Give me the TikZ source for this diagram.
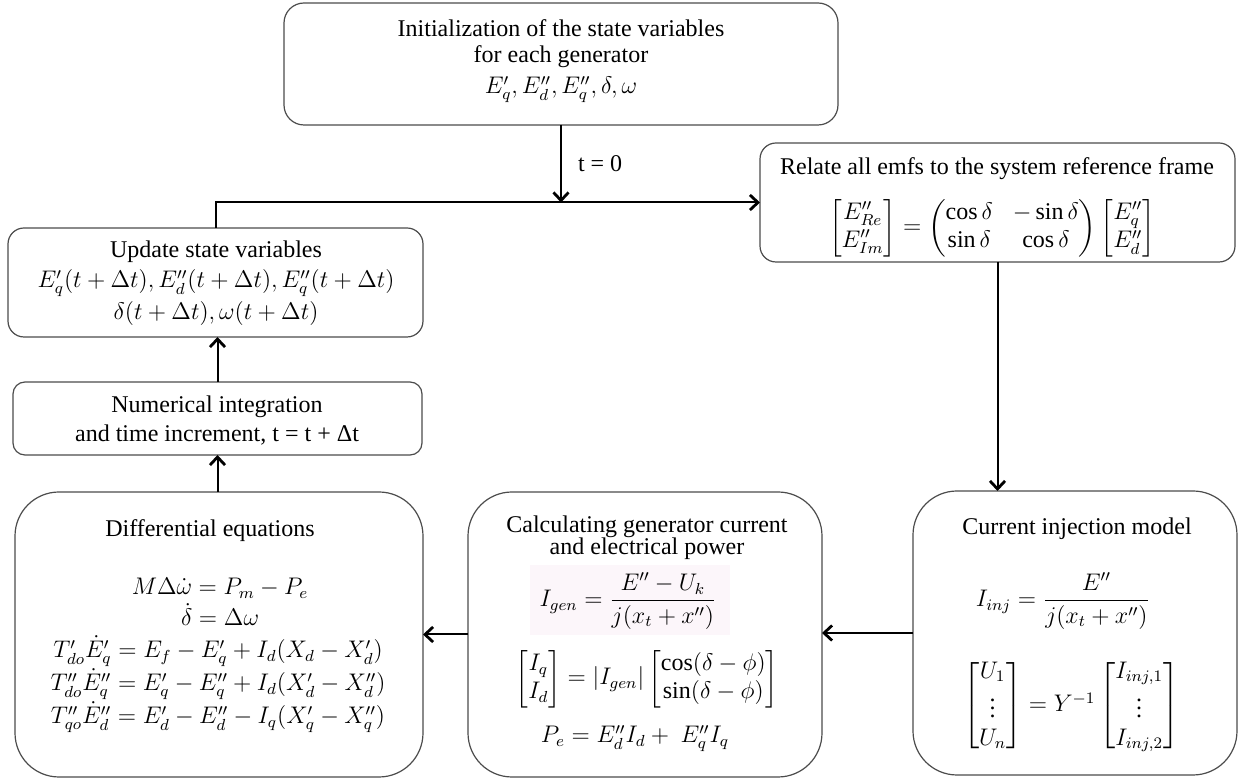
\documentclass[tikz,border=0pt]{standalone}
\usepackage{amsmath}
\usepackage{fontspec}
\setmainfont{Liberation Serif}
\usetikzlibrary{arrows.meta}
\definecolor{pinkbg}{RGB}{252,246,250}
\begin{document}
\begin{tikzpicture}[x=0.5pt,y=-0.5pt,
  box/.style={draw=black!70, line width=0.6pt, inner sep=0pt, outer sep=0pt, fill=white},
  arr/.style={line width=1pt, -{Straight Barb[length=4pt,width=7.5pt,line width=1.4pt]}},
  txt/.style={anchor=base, inner sep=0pt, font=\fontsize{12}{14}\selectfont},
  mth/.style={anchor=center, inner sep=0pt, font=\fontsize{12}{14}\selectfont}]
\useasboundingbox (0,0) rectangle (1239,780);
% boxes
\node[box, minimum width=277pt, minimum height=61pt, rounded corners=10pt] (init) at (561,64) {};
\node[box, minimum width=237.5pt, minimum height=59.5pt, rounded corners=8pt] (relate) at (997.5,202.5) {};
\node[box, minimum width=207.5pt, minimum height=54.5pt, rounded corners=8pt] (update) at (215.5,282.5) {};
\node[box, minimum width=204.5pt, minimum height=36.5pt, rounded corners=6pt] (numer) at (217.5,418.5) {};
\node[box, minimum width=204pt, minimum height=142.5pt, rounded corners=22pt] (diff) at (219,634.5) {};
\node[box, minimum width=177pt, minimum height=142.5pt, rounded corners=22pt] (calc) at (645,634.5) {};
\node[box, minimum width=162pt, minimum height=142pt, rounded corners=22pt] (curr) at (1075,633) {};
% init texts
\node[txt] (i1) at (561,37) {Initialization of the state variables};
\node[txt] (i2) at (561,63) {for each generator};
\node[txt] (i3) at (561,94) {$E'_q, E''_d, E''_q, \delta, \omega$};
% relate
\node[txt] (r1) at (997,175) {Relate all emfs to the system reference frame};
\node[mth] (r2) at (992,228) {$\begin{bmatrix}E''_{Re}\\ E''_{Im}\end{bmatrix} = \begin{pmatrix}\cos\delta & -\sin\delta\\ \sin\delta & \cos\delta\end{pmatrix}\begin{bmatrix}E''_q\\ E''_d\end{bmatrix}$};
% update
\node[txt] (u1) at (216,258) {Update state variables};
\node[txt] (u2) at (216,288) {$E'_q(t+\Delta t), E''_d(t+\Delta t), E''_q(t+\Delta t)$};
\node[txt] (u3) at (216,320) {$\delta(t+\Delta t), \omega(t+\Delta t)$};
% numerical
\node[txt] (n1) at (217,413) {Numerical integration};
\node[txt] (n2) at (217,442) {and time increment, t = t + Δt};
% differential
\node[txt] (d0) at (210,537) {Differential equations};
\node[txt] (d1) at (220,595) {$M\Delta\dot\omega = P_m - P_e$};
\node[txt] (d2) at (220,626) {$\dot\delta = \Delta\omega$};
\node[txt] (d3) at (218,658) {$T'_{do}\dot E'_q = E_f - E'_q + I_d(X_d - X'_d)$};
\node[txt] (d4) at (218,691) {$T''_{do}\dot E''_q = E'_q - E''_q + I_d(X'_d - X''_d)$};
\node[txt] (d5) at (218,724) {$T''_{qo}\dot E''_d = E'_d - E''_d - I_q(X'_q - X''_q)$};
% calc
\node[txt] (c1) at (647,533) {Calculating generator current};
\node[txt] (c2) at (647,555) {and electrical power};
\fill[pinkbg] (530,565) rectangle (730,635);
\node[mth] (c3) at (628,601) {$I_{gen} = \dfrac{E''-U_k}{j(x_t + x'')}$};
\node[mth] (c4) at (647,679) {$\begin{bmatrix}I_q\\ I_d\end{bmatrix} = |I_{gen}|\begin{bmatrix}\cos(\delta-\phi)\\ \sin(\delta-\phi)\end{bmatrix}$};
\node[txt] (c5) at (635,743) {$P_e = E''_d I_d +\ E''_q I_q$};
% current
\node[txt] (k1) at (1077,535) {Current injection model};
\node[mth] (k2) at (1063,601) {$I_{inj} = \dfrac{E''}{j(x_t + x'')}$};
\node[mth] (k3) at (1071,706) {$\begin{bmatrix}U_1\\ \vdots\\ U_n\end{bmatrix} = Y^{-1}\begin{bmatrix}I_{inj,1}\\ \vdots\\ I_{inj,2}\end{bmatrix}$};
% connectors
\draw[arr] (init.south) -- (init.south |- relate.west) node[pos=0.5, right=8pt, txt, anchor=west] (t0) {t = 0};
\draw[arr] (update.north) |- (relate.west);
\draw[arr] (relate.south) -- (relate.south |- curr.north);
\draw[arr] (curr.west) -- (curr.west -| calc.east);
\draw[arr] (calc.west) -- (calc.west -| diff.east);
\draw[arr] (diff.north -| numer.south) -- (numer.south);
\draw[arr] (numer.north) -- (numer.north |- update.south);
\end{tikzpicture}
\end{document}
